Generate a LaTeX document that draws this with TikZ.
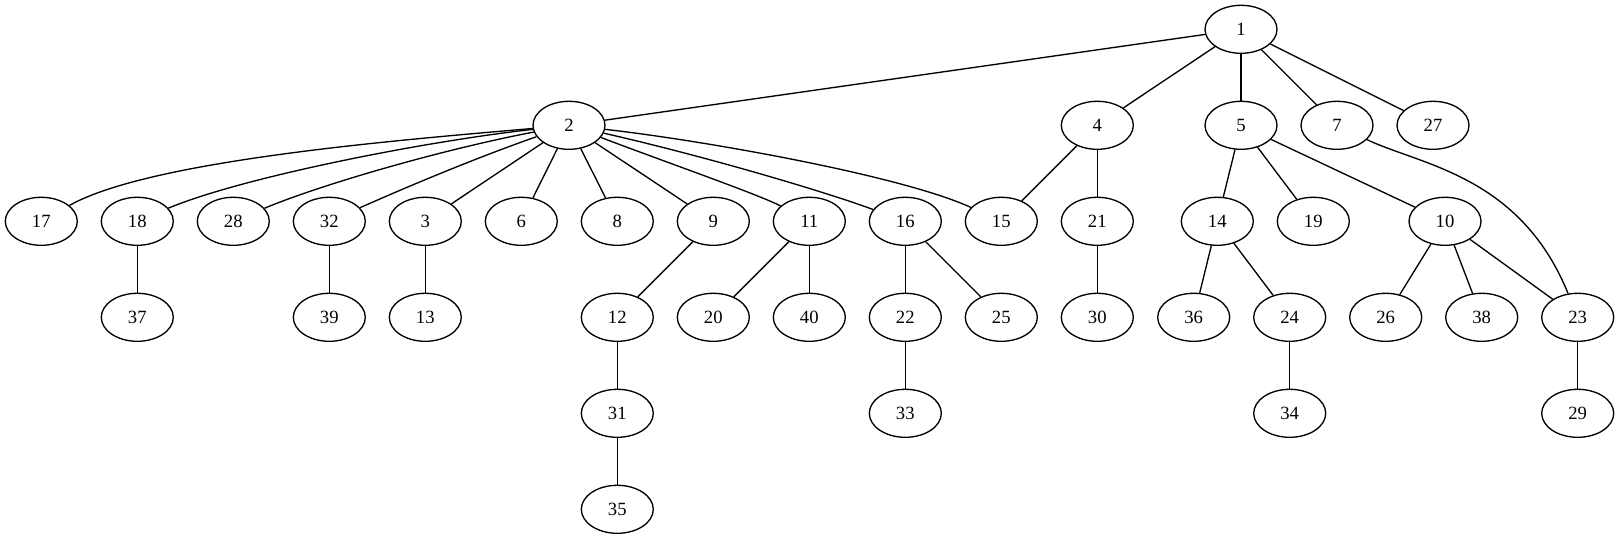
\documentclass[tikz,border=0pt]{standalone}
\usepackage{fontspec}
\setmainfont{Liberation Serif}
\usetikzlibrary{shapes.geometric}
\begin{document}
\begin{tikzpicture}[x=0.75pt,y=-0.75pt,
  vtx/.style={ellipse,draw,line width=1pt,minimum width=54pt,minimum height=36pt,inner sep=0pt,font=\fontsize{14pt}{16pt}\selectfont},
  edge/.style={line width=1pt}]
\useasboundingbox (0,0) rectangle (1619,539);
% rank 1
\node[vtx] (n1) at (1241,29.3) {1};
% rank 2
\node[vtx] (n2) at (569,125.3) {2};
\node[vtx] (n4) at (1097.3,125.3) {4};
\node[vtx] (n5) at (1241,125.3) {5};
\node[vtx] (n7) at (1337,125.3) {7};
\node[vtx] (n27) at (1433,125.3) {27};
% rank 3
\node[vtx] (n17) at (41.3,221.3) {17};
\node[vtx] (n18) at (137.3,221.3) {18};
\node[vtx] (n28) at (233.3,221.3) {28};
\node[vtx] (n32) at (329.3,221.3) {32};
\node[vtx] (n3) at (425.3,221.3) {3};
\node[vtx] (n6) at (521.3,221.3) {6};
\node[vtx] (n8) at (617.3,221.3) {8};
\node[vtx] (n9) at (713.3,221.3) {9};
\node[vtx] (n11) at (809.3,221.3) {11};
\node[vtx] (n16) at (905.3,221.3) {16};
\node[vtx] (n15) at (1001.3,221.3) {15};
\node[vtx] (n21) at (1097.3,221.3) {21};
\node[vtx] (n14) at (1217.3,221.3) {14};
\node[vtx] (n19) at (1313.3,221.3) {19};
\node[vtx] (n10) at (1445,221.3) {10};
% rank 4
\node[vtx] (n37) at (137.3,317.3) {37};
\node[vtx] (n39) at (329.3,317.3) {39};
\node[vtx] (n13) at (425.3,317.3) {13};
\node[vtx] (n12) at (617.3,317.3) {12};
\node[vtx] (n20) at (713.3,317.3) {20};
\node[vtx] (n40) at (809.3,317.3) {40};
\node[vtx] (n22) at (905.3,317.3) {22};
\node[vtx] (n25) at (1001.3,317.3) {25};
\node[vtx] (n30) at (1097.3,317.3) {30};
\node[vtx] (n36) at (1193.7,317.3) {36};
\node[vtx] (n24) at (1289.7,317.3) {24};
\node[vtx] (n26) at (1385.7,317.3) {26};
\node[vtx] (n38) at (1481.7,317.3) {38};
\node[vtx] (n23) at (1577.7,317.3) {23};
% rank 5
\node[vtx] (n31) at (617.3,413.3) {31};
\node[vtx] (n33) at (905.3,413.3) {33};
\node[vtx] (n34) at (1289.7,413.3) {34};
\node[vtx] (n29) at (1577.7,413.3) {29};
% rank 6
\node[vtx] (n35) at (617.3,509.3) {35};
% straight edges
\foreach \a/\b in {n1/n2,n1/n4,n1/n5,n1/n7,n1/n27,n4/n15,n4/n21,n21/n30,
  n5/n14,n5/n19,n5/n10,n14/n36,n14/n24,n24/n34,n10/n26,n10/n38,n10/n23,n23/n29,
  n18/n37,n32/n39,n3/n13,n9/n12,n12/n31,n31/n35,n11/n20,n11/n40,n16/n22,n16/n25,n22/n33,
  n2/n3,n2/n6,n2/n8,n2/n9}
  \draw[edge] (\a) -- (\b);
% curved edges
\draw[edge] (n2) .. controls (400,140) and (150,160) .. (n17);
\draw[edge] (n2) .. controls (420,142) and (240,178) .. (n18);
\draw[edge] (n2) .. controls (440,150) and (320,185) .. (n28);
\draw[edge] (n2) .. controls (470,160) and (400,190) .. (n32);
\draw[edge] (n2) .. controls (660,160) and (760,195) .. (n11);
\draw[edge] (n2) .. controls (700,155) and (820,190) .. (n16);
\draw[edge] (n2) .. controls (700,140) and (900,175) .. (n15);
\draw[edge] (n7) .. controls (1420,165) and (1520,175) .. (n23);
\end{tikzpicture}
\end{document}
